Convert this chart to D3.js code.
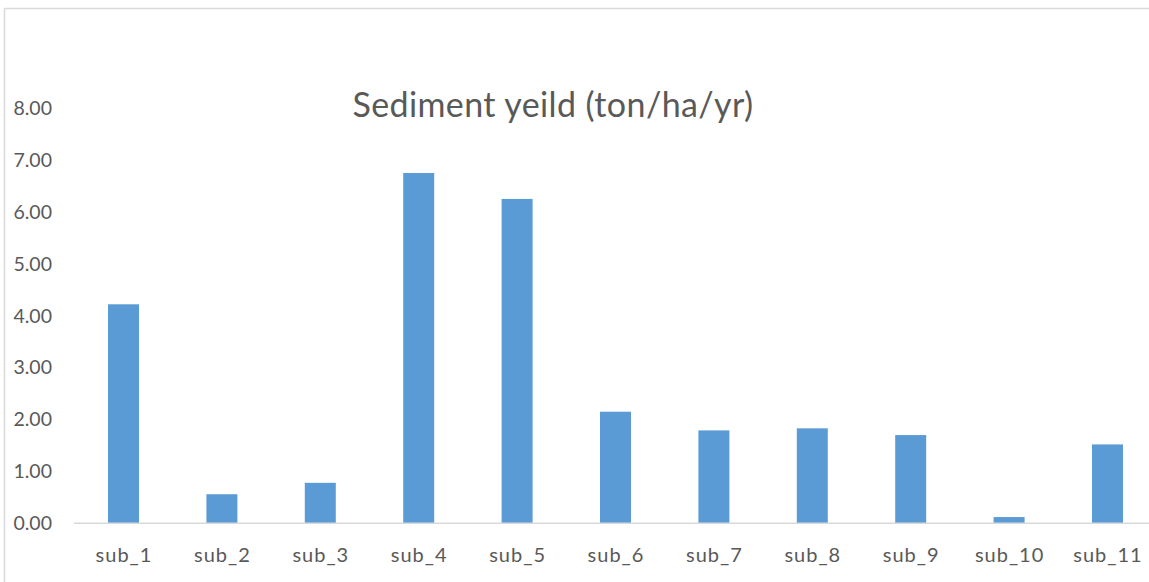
<!DOCTYPE html>
<html>
<head>
<meta charset="utf-8">
<script src="https://cdn.jsdelivr.net/npm/d3@7"></script>
<style>
  body { margin: 0; background: #fff; }
  text { font-family: Lato, "Open Sans", sans-serif; fill: #595959; }
</style>
</head>
<body>
<script>
const categories = ["sub_1", "sub_2", "sub_3", "sub_4", "sub_5", "sub_6", "sub_7", "sub_8", "sub_9", "sub_10", "sub_11"];
const values = [4.22, 0.56, 0.78, 6.75, 6.25, 2.15, 1.79, 1.83, 1.70, 0.12, 1.52];
const yTicks = [0, 1, 2, 3, 4, 5, 6, 7, 8];
const title = "Sediment yeild (ton/ha/yr)";

const width = 1149, height = 582;

const svg = d3.select("body").append("svg").attr("width", width).attr("height", height);

// chart frame (cropped on right/bottom)
svg.append("path")
   .attr("d", "M4.5,600V8.5H1200")
   .attr("fill", "none")
   .attr("stroke", "#d9d9d9")
   .attr("stroke-width", 1.5);

// Scales
const x = d3.scaleBand().domain(categories).range([74.3, 1156.7]).paddingInner(0.685).paddingOuter(0.3425);
const y = d3.scaleLinear().domain([0, 8]).range([523.3, 108.1]);

// Title
svg.append("text")
   .attr("x", 553).attr("y", 117)
   .attr("text-anchor", "middle")
   .style("font-size", "34px")
   .style("letter-spacing", "0.4px")
   .text(title);

// Bars
svg.append("g").selectAll("rect")
   .data(values)
   .enter().append("rect")
   .attr("x", (d, i) => x(categories[i]))
   .attr("width", x.bandwidth())
   .attr("y", d => y(d))
   .attr("height", d => y(0) - y(d))
   .attr("fill", "#5b9bd5");

// Y labels
svg.append("g").selectAll("text")
   .data(yTicks)
   .enter().append("text")
   .attr("x", 52).attr("y", d => y(d))
   .attr("dy", "0.35em")
   .attr("text-anchor", "end")
   .style("font-size", "19.5px")
   .text(d => d3.format(".2f")(d));

// X axis line
svg.append("line")
   .attr("x1", 74).attr("x2", width)
   .attr("y1", y(0)).attr("y2", y(0))
   .attr("stroke", "#d9d9d9").attr("stroke-width", 1.5);

// X labels
svg.append("g").selectAll("text")
   .data(categories)
   .enter().append("text")
   .attr("x", d => x(d) + x.bandwidth() / 2 + 0.5)
   .attr("y", 562)
   .attr("text-anchor", "middle")
   .style("font-size", "20px")
   .style("letter-spacing", "1px")
   .text(d => d);
</script>
</body>
</html>
